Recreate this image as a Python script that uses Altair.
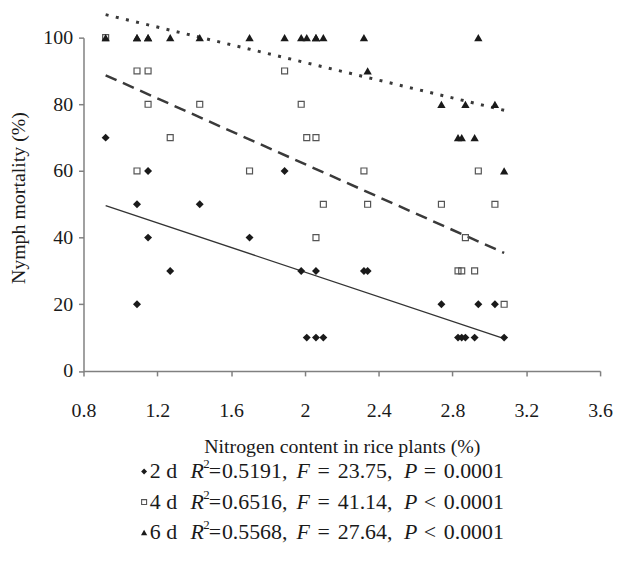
import altair as alt
import pandas as pd

# ---- data ----
n_2d = [0.92, 1.15, 1.89, 1.09, 1.43, 1.15, 1.70, 1.27, 1.98, 2.06, 2.32, 2.34,
        1.09, 2.74, 2.94, 3.03, 2.01, 2.06, 2.10, 2.83, 2.85, 2.87, 2.92, 3.08]
m_2d = [70, 60, 60, 50, 50, 40, 40, 30, 30, 30, 30, 30,
        20, 20, 20, 20, 10, 10, 10, 10, 10, 10, 10, 10]
n_4d = [0.92, 1.09, 1.15, 1.89, 1.15, 1.43, 1.98, 1.27, 2.01, 2.06, 1.09, 1.70,
        2.32, 2.94, 2.10, 2.34, 2.74, 3.03, 2.06, 2.87, 2.83, 2.85, 2.92, 3.08]
m_4d = [100, 90, 90, 90, 80, 80, 80, 70, 70, 70, 60, 60,
        60, 60, 50, 50, 50, 50, 40, 40, 30, 30, 30, 20]
n_6d = [0.92, 1.09, 1.09, 1.15, 1.15, 1.27, 1.43, 1.70, 1.89, 1.98, 2.01, 2.06,
        2.06, 2.10, 2.32, 2.94, 2.34, 2.74, 2.87, 3.03, 2.83, 2.85, 2.92, 3.08]
m_6d = [100, 100, 100, 100, 100, 100, 100, 100, 100, 100, 100, 100,
        100, 100, 100, 100, 90, 80, 80, 80, 70, 70, 70, 60]

fit_n = [0.92, 3.08]
fit_2d = [49.6, 9.7]
fit_4d = [88.7, 35.4]
fit_6d = [106.9, 78.2]

x_ticks = [0.8, 1.2, 1.6, 2.0, 2.4, 2.8, 3.2, 3.6]
y_ticks = [0, 20, 40, 60, 80, 100]

days = ["2 d", "4 d", "6 d"]
r2_vals = ["0.5191,", "0.6516,", "0.5568,"]
f_vals = ["23.75,", "41.14,", "27.64,"]
p_ops = ["=", "<", "<"]
p_vals = ["0.0001", "0.0001", "0.0001"]
shapes = ["diamond", "square", "triangle-up"]

FONT = "Liberation Serif, Times New Roman, Times, DejaVu Serif, serif"
INK = "#1a1a1a"
AX = "#808080"

d2 = pd.DataFrame({"n": n_2d, "m": m_2d})
d4 = pd.DataFrame({"n": n_4d, "m": m_4d})
d6 = pd.DataFrame({"n": n_6d, "m": m_6d})
f2 = pd.DataFrame({"n": fit_n, "m": fit_2d})
f4 = pd.DataFrame({"n": fit_n, "m": fit_4d})
f6 = pd.DataFrame({"n": fit_n, "m": fit_6d})

X = alt.X("n:Q",
          scale=alt.Scale(domain=[0.8, 3.6], nice=False, zero=False),
          axis=alt.Axis(values=x_ticks, format="~g", grid=False,
                        title="Nitrogen content in rice plants (%)",
                        labelFont=FONT, labelFontSize=20, labelColor=INK,
                        labelBaseline="alphabetic", labelPadding=41,
                        labelFlush=False, labelOverlap=False, labelBound=False,
                        tickSize=5, tickColor=AX, tickWidth=1.5,
                        domainColor=AX, domainWidth=1.5,
                        titleFont=FONT, titleFontSize=20, titleFontWeight="normal",
                        titleColor=INK, titleBaseline="alphabetic", titleY=82.5))
Y = alt.Y("m:Q",
          scale=alt.Scale(domain=[0, 100], nice=False),
          axis=alt.Axis(values=y_ticks, grid=False,
                        title="Nymph mortality (%)",
                        labelFont=FONT, labelFontSize=20, labelColor=INK,
                        labelPadding=6, tickSize=5, tickColor=AX, tickWidth=1.5,
                        domainColor=AX, domainWidth=1.5,
                        titleFont=FONT, titleFontSize=20, titleFontWeight="normal",
                        titleColor=INK, titleAngle=270, titleX=-65, titleY=161,
                        titleBaseline="middle", titleAlign="center"))

line2 = alt.Chart(f2).mark_line(color="#333333", strokeWidth=1.3).encode(x=X, y=Y)
line4 = alt.Chart(f4).mark_line(color="#3a3a3a", strokeWidth=2.5, strokeDash=[12, 7]).encode(x=X, y=Y)
line6 = alt.Chart(f6).mark_line(color="#3a3a3a", strokeWidth=3, strokeDash=[3, 7.5]).encode(x=X, y=Y)

pts2 = alt.Chart(d2).mark_point(shape="diamond", size=64, filled=True, color=INK, opacity=1).encode(x=X, y=Y)
pts4 = alt.Chart(d4).mark_point(shape="square", size=36, filled=False, color="#555555",
                                strokeWidth=1.2, opacity=1).encode(x=X, y=Y)
pts6 = alt.Chart(d6).mark_point(shape="triangle-up", size=70, filled=True, color=INK, opacity=1).encode(x=X, y=Y)

# ---- legend text block below the x axis (pixel layout) ----
base_y = [443.3, 474.0, 504.7]
reg_rows, ital_rows, sup_rows, mark_rows = [], [], [], []
for i in range(3):
    by = base_y[i]
    reg_rows += [
        {"lx": 66.7, "ly": by, "t": days[i]},
        {"lx": 126.0, "ly": by, "t": "="},
        {"lx": 139.3, "ly": by, "t": r2_vals[i]},
        {"lx": 235.5, "ly": by, "t": "="},
        {"lx": 256.0, "ly": by, "t": f_vals[i]},
        {"lx": 342.5, "ly": by, "t": p_ops[i]},
        {"lx": 362.7, "ly": by, "t": p_vals[i]},
    ]
    ital_rows += [
        {"lx": 107.7, "ly": by, "t": "R"},
        {"lx": 214.3, "ly": by, "t": "F"},
        {"lx": 322.7, "ly": by, "t": "P"},
    ]
    sup_rows.append({"lx": 120.5, "ly": by - 10, "t": "2"})
    mark_rows.append({"lx": 61.0, "ly": by - 6.5, "s": shapes[i]})

LX = alt.X("lx:Q", scale=None, axis=None)
LY = alt.Y("ly:Q", scale=None, axis=None)

leg_reg = alt.Chart(pd.DataFrame(reg_rows)).mark_text(
    font=FONT, fontSize=22, color=INK, align="left", baseline="alphabetic"
).encode(x=LX, y=LY, text="t:N")
leg_ital = alt.Chart(pd.DataFrame(ital_rows)).mark_text(
    font=FONT, fontSize=22, fontStyle="italic", color=INK, align="left", baseline="alphabetic"
).encode(x=LX, y=LY, text="t:N")
leg_sup = alt.Chart(pd.DataFrame(sup_rows)).mark_text(
    font=FONT, fontSize=13, color=INK, align="left", baseline="alphabetic"
).encode(x=LX, y=LY, text="t:N")

mk = pd.DataFrame(mark_rows)
leg_m2 = alt.Chart(mk[mk.s == "diamond"]).mark_point(shape="diamond", size=36, filled=True,
                                                    color=INK, opacity=1).encode(x=LX, y=LY)
leg_m4 = alt.Chart(mk[mk.s == "square"]).mark_point(shape="square", size=25, filled=False,
                                                   color="#555555", strokeWidth=1.1, opacity=1).encode(x=LX, y=LY)
leg_m6 = alt.Chart(mk[mk.s == "triangle-up"]).mark_point(shape="triangle-up", size=40, filled=True,
                                                        color=INK, opacity=1).encode(x=LX, y=LY)

chart = alt.layer(
    line2, line4, line6, pts2, pts4, pts6,
    leg_reg, leg_ital, leg_sup, leg_m2, leg_m4, leg_m6
).properties(
    width=520, height=335.5,
    autosize=alt.AutoSizeParams(type="none"),
    padding={"left": 76, "top": 28, "right": 13, "bottom": 191},
    background="white",
).configure_view(strokeWidth=0)

chart.save("out.html", embed_options={"renderer": "svg", "actions": False})
